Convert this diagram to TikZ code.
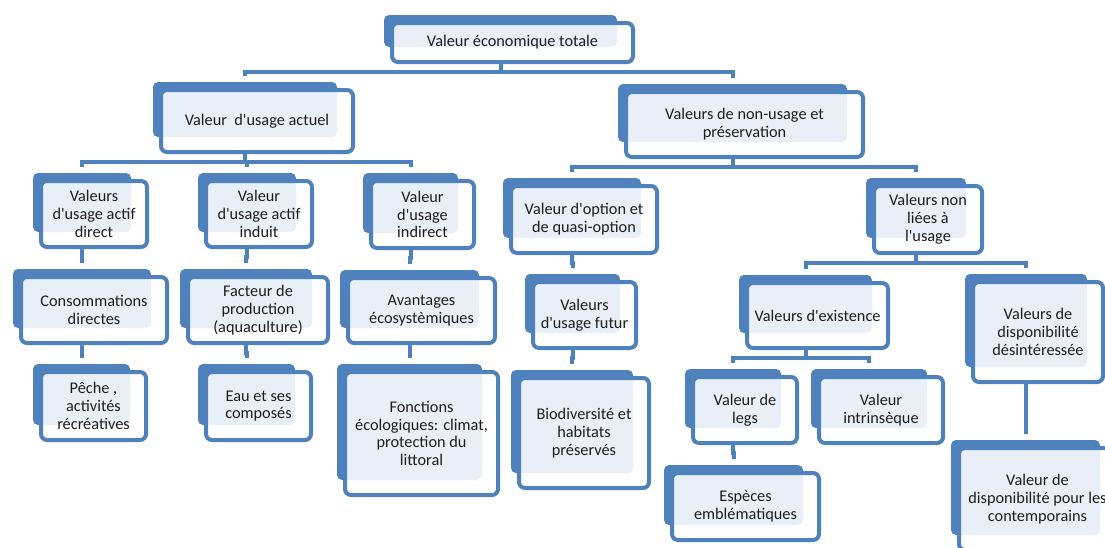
\documentclass[tikz,border=0pt]{standalone}
\usepackage{fontspec}
\setmainfont{Carlito}
\usepackage{xcolor}
\usetikzlibrary{calc,backgrounds}
\definecolor{bleu}{RGB}{79,129,189}
\definecolor{texte}{RGB}{30,30,30}
\newcommand{\ap}{\textquotesingle}

\begin{document}
\begin{tikzpicture}[x=1pt,y=-1pt,
    bx/.style={draw=bleu, line width=4pt, rounded corners=6pt, fill=white,
               fill opacity=0.88, draw opacity=1, text opacity=1, align=center,
               inner sep=0pt, outer sep=0pt, text=texte,
               font=\fontsize{16.3}{17.8}\selectfont},
    bk/.style={fill=bleu, rounded corners=5pt},
    ed/.style={draw=bleu, line width=4pt}
  ]
  \useasboundingbox (0,0) rectangle (1105,547);
  \clip (0,0) rectangle (1105,547);
  % level 0 and 1
  \node[bx, minimum width=241, minimum height=39] (root) at (512.5,42.5) {Valeur économique totale};
  \node[bx, minimum width=192, minimum height=62] (actuel) at (257,121) {Valeur\ \ d\ap usage actuel};
  \node[bx, minimum width=237, minimum height=65] (nonusage) at (744.5,124.5) {Valeurs de non-usage et\\préservation};
  % level 2
  \node[bx, minimum width=106, minimum height=66] (direct) at (94,214) {Valeurs\\d\ap usage actif\\direct};
  \node[bx, minimum width=106, minimum height=66] (induit) at (259,214) {Valeur\\d\ap usage actif\\induit};
  \node[bx, minimum width=103, minimum height=67] (indirect) at (422.5,214.5) {Valeur\\d\ap usage\\indirect};
  \node[bx, minimum width=146, minimum height=67] (option) at (584,219.5) {Valeur d\ap option et\\de quasi-option};
  \node[bx, minimum width=108, minimum height=67] (nonlie) at (928,219.5) {Valeurs non\\liées à\\l\ap usage};
  % level 3
  \node[bx, minimum width=146, minimum height=66] (conso) at (94,310) {Consommations\\directes};
  \node[bx, minimum width=140, minimum height=66] (facteur) at (258,310) {Facteur de\\production\\(aquaculture)};
  \node[bx, minimum width=147, minimum height=65] (avant) at (421.5,310.5) {Avantages\\écosystèmiques};
  \node[bx, minimum width=103, minimum height=66] (futur) at (584.5,315) {Valeurs\\d\ap usage futur};
  \node[bx, minimum width=141, minimum height=65] (exist) at (817.5,315.5) {Valeurs d\ap existence};
  \node[bx, minimum width=130, minimum height=100] (desint) at (1038,332) {Valeurs de\\disponibilité\\désintéressée};
  % level 4
  \node[bx, minimum width=105, minimum height=68] (peche) at (93.5,406) {Pêche ,\\activités\\récréatives};
  \node[bx, minimum width=105, minimum height=68] (eau) at (258.5,406) {Eau et ses\\composés};
  \node[bx, minimum width=153, minimum height=123] (fonct) at (421.5,433.5) {Fonctions\\écologiques: climat,\\protection du\\littoral};
  \node[bx, minimum width=130, minimum height=110] (biodiv) at (584,433) {Biodiversité et\\habitats\\préservés};
  \node[bx, minimum width=104, minimum height=66] (legs) at (745,410) {Valeur de\\legs};
  \node[bx, minimum width=124, minimum height=66] (intrin) at (881,410) {Valeur\\intrinsèque};
  \node[bx, minimum width=147, minimum height=67] (especes) at (745.5,506.5) {Espèces\\emblématiques};
  \node[bx, minimum width=157, minimum height=102] (contemp) at (1037.5,499) {Valeur de\\disponibilité pour les\\contemporains};
  % blue backs
  \begin{scope}[on background layer]
    \foreach \n in {root,actuel,nonusage,direct,induit,indirect,option,nonlie,
                    conso,facteur,avant,futur,exist,desint,peche,eau,fonct,
                    biodiv,legs,intrin,especes,contemp}
      \fill[bk] ($(\n.north west)+(-8,-8)$) rectangle ($(\n.south east)+(-16,-15)$);
  \end{scope}
  % connectors
  \foreach \p/\c in {root/actuel,root/nonusage,actuel/direct,actuel/induit,
                     actuel/indirect,nonusage/option,nonusage/nonlie,
                     direct/conso,induit/facteur,indirect/avant,option/futur,
                     nonlie/exist,nonlie/desint,conso/peche,facteur/eau,
                     avant/fonct,futur/biodiv,exist/legs,exist/intrin,
                     desint/contemp,legs/especes}
    \draw[ed] ($(\p.south)+(-12,0)$) -- ++(0,10) -| ($(\c.north)+(-12,-14)$);
\end{tikzpicture}
\end{document}
